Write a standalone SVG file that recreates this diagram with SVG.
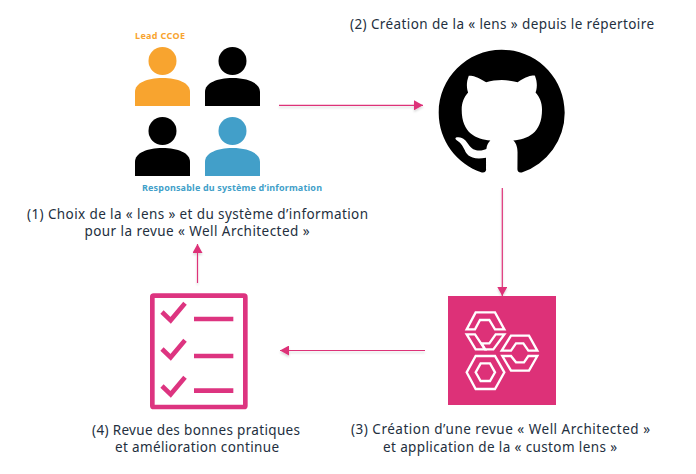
<svg xmlns="http://www.w3.org/2000/svg" width="696" height="474" viewBox="0 0 696 474">
<style>
text{font-family:"Noto Sans","Liberation Sans",sans-serif;font-size:13.500px;fill:#232f3e}
.tag{font-size:9px;font-weight:700}
.c{fill:none;stroke:#dd3178;stroke-width:1.200;marker-end:url(#a);filter:url(#s)}
.hex{fill:none;stroke:#fff;stroke-width:7;stroke-linejoin:miter}
.chk{fill:none;stroke:#dd3480;stroke-width:14}
</style>
<defs>
<marker id="a" markerUnits="userSpaceOnUse" markerWidth="10" markerHeight="10" refX="9" refY="5" orient="auto"><path d="M0 0L9 5L0 10z" fill="#dd3178"/></marker>
<filter id="s" x="0" y="0" width="696" height="474" filterUnits="userSpaceOnUse"><feDropShadow dx="0" dy="2" stdDeviation="1.200" flood-color="#000" flood-opacity=".15"/></filter>
<g id="p"><circle cx="27.500" cy="14" r="14"/><path d="M0 59V45C0 36 12 31 27.500 31S55 36 55 45V59z"/></g>
</defs>
<g id="connectors">
<path class="c" d="M279 105.300H423"/>
<path class="c" d="M502.300 188V296"/>
<path class="c" d="M425 350.500H280"/>
<path class="c" d="M197.500 283V244"/>
</g>
<g id="users">
<use href="#p" x="135" y="47" fill="#f8a42f"/>
<use href="#p" x="205" y="47" fill="#000"/>
<use href="#p" x="135" y="117" fill="#000"/>
<use href="#p" x="205" y="117" fill="#429fc9"/>
<text class="tag" x="135" y="39" style="fill:#f8a42f" textLength="50">Lead CCOE</text>
<text class="tag" x="142" y="191" style="fill:#429fc9" textLength="180">Responsable du système d’information</text>
<text x="197.500" y="219" text-anchor="middle" textLength="341">(1) Choix de la « lens » et du système d’information</text>
<text x="197" y="235.500" text-anchor="middle" textLength="225">pour la revue « Well Architected »</text>
</g>
<g id="github">
<path transform="translate(438.700,49.700) scale(7.875)" fill="#000" d="M8 0C3.580 0 0 3.580 0 8c0 3.540 2.290 6.530 5.470 7.590.4.070.55-.17.55-.38 0-.19-.01-.82-.01-1.490-2.010.37-2.530-.49-2.690-.94-.09-.23-.48-.94-.82-1.130-.28-.15-.68-.52-.01-.53.63-.01 1.080.58 1.230.82.72 1.210 1.870.87 2.330.66.07-.52.28-.87.51-1.070-1.780-.2-3.640-.89-3.640-3.950 0-.87.31-1.590.82-2.150-.08-.2-.36-1.020.08-2.120 0 0 .67-.21 2.200.82.64-.18 1.320-.27 2-.27.68 0 1.360.09 2 .27 1.530-1.040 2.200-.82 2.200-.82.44 1.100.16 1.920.08 2.120.51.56.82 1.270.82 2.150 0 3.070-1.870 3.750-3.650 3.950.29.25.54.73.54 1.480 0 1.070-.01 1.930-.01 2.200 0 .21.15.46.55.38A8.013 8.013 0 0016 8c0-4.420-3.580-8-8-8z"/>
<text x="502" y="29" text-anchor="middle" textLength="304">(2) Création de la « lens » depuis le répertoire</text>
</g>
<g id="review">
<rect x="448" y="296" width="108" height="109" fill="#dd3178"/>
<g transform="translate(430,280) scale(.33333)" class="hex">
<path d="M110 148L137 97H195L223 148H195L178 120H150L135 148Z"/>
<path d="M110 163H135L165 208H137Z"/>
<path d="M223 163H197L178 190H155L165 208H190Z"/>
<path d="M215 212L243 167H297L322 212H295L280 190H258L243 212Z"/>
<path d="M217 228H243L258 247H282L295 228H322L297 272H243Z"/>
<path d="M110 277L137 228H195L223 277L195 327H137Z"/>
<path d="M137 277L152 250H180L195 277L180 303H152Z"/>
</g>
<text x="500.500" y="434" text-anchor="middle" textLength="299">(3) Création d’une revue « Well Architected »</text>
<text x="500" y="452" text-anchor="middle" textLength="234">et application de la « custom lens »</text>
</g>
<g id="checklist">
<g transform="translate(130,280) scale(.33333)">
<rect x="67" y="47" width="279" height="334" rx="4" fill="none" stroke="#dd3480" stroke-width="14"/>
<path class="chk" d="M96 96L122 121L165 70M192 117H310M96 207L122 232L165 181M192 228H310M96 318L122 343L165 292M192 332H310"/>
</g>
<text x="196" y="435" text-anchor="middle" textLength="208">(4) Revue des bonnes pratiques</text>
<text x="197" y="452" text-anchor="middle" textLength="164">et amélioration continue</text>
</g>
</svg>
